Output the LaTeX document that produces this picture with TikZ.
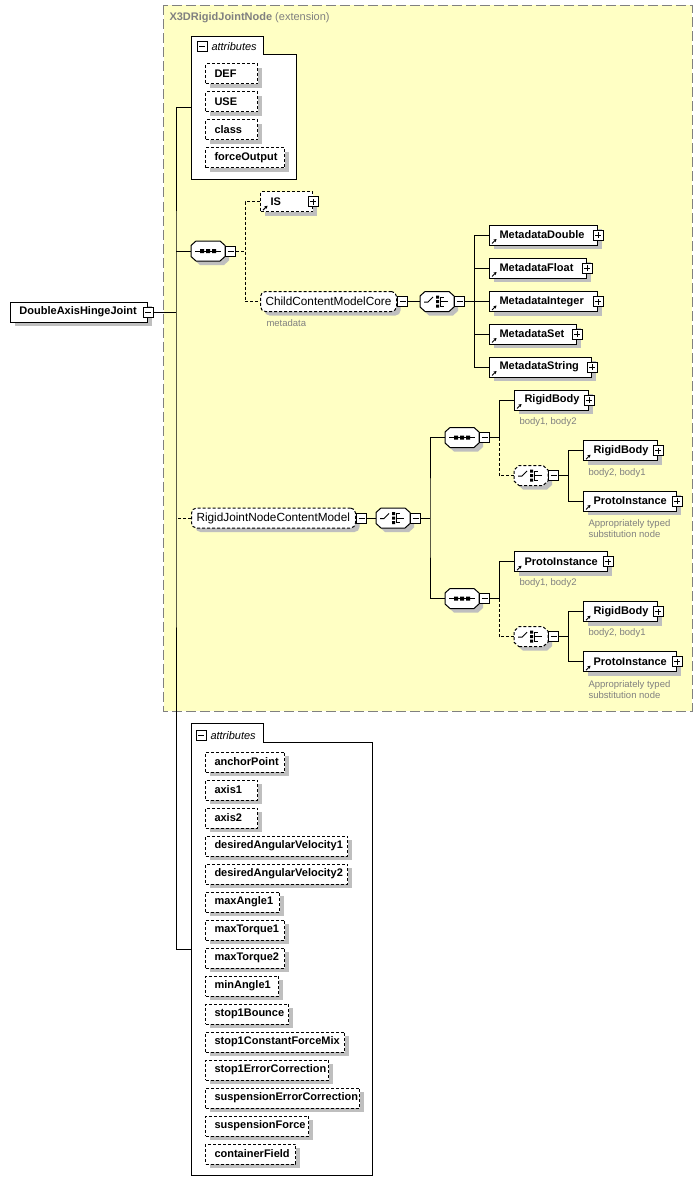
\documentclass[tikz,border=0pt]{standalone}
\usepackage{fontspec}
\setmainfont{Liberation Sans}
\usetikzlibrary{arrows,arrows.meta,shadows}
\definecolor{extfill}{RGB}{255,255,196}
\definecolor{extline}{RGB}{128,128,128}
\definecolor{hintgray}{RGB}{128,128,128}

% octagonal box for sequence and choice compositors
\makeatletter
\newdimen\octl \newdimen\octr \newdimen\octt \newdimen\octb
\newdimen\octL \newdimen\octR \newdimen\octT \newdimen\octB
\pgfdeclareshape{octbox}{%
  \inheritsavedanchors[from=rectangle]%
  \inheritanchorborder[from=rectangle]%
  \inheritanchor[from=rectangle]{center}%
  \inheritanchor[from=rectangle]{north}%
  \inheritanchor[from=rectangle]{south}%
  \inheritanchor[from=rectangle]{east}%
  \inheritanchor[from=rectangle]{west}%
  \backgroundpath{%
    \southwest \octl=\pgf@x \octb=\pgf@y
    \northeast \octr=\pgf@x \octt=\pgf@y
    \octL=\octl \advance\octL by 5pt
    \octR=\octr \advance\octR by -5pt
    \octB=\octb \advance\octB by 4.5pt
    \octT=\octt \advance\octT by -4.5pt
    \pgfpathmoveto{\pgfqpoint{\octL}{\octb}}%
    \pgfpathlineto{\pgfqpoint{\octR}{\octb}}%
    \pgfpathlineto{\pgfqpoint{\octr}{\octB}}%
    \pgfpathlineto{\pgfqpoint{\octr}{\octT}}%
    \pgfpathlineto{\pgfqpoint{\octR}{\octt}}%
    \pgfpathlineto{\pgfqpoint{\octL}{\octt}}%
    \pgfpathlineto{\pgfqpoint{\octl}{\octT}}%
    \pgfpathlineto{\pgfqpoint{\octl}{\octB}}%
    \pgfpathclose
  }%
}
\makeatother

\begin{document}
\begin{tikzpicture}[x=1pt,y=-1pt,line width=1pt,>=stealth']

  \tikzstyle{shade}=[general shadow={shadow xshift=4pt,shadow yshift=-4pt,fill=black!25}]
  \tikzstyle{opt}=[dash pattern=on 3pt off 2pt]
  \tikzstyle{box}=[rectangle,draw,fill=white,shade,anchor=west,minimum height=20pt,
                   inner xsep=10pt,inner ysep=0pt,align=left,
                   font=\fontsize{11}{13}\selectfont\bfseries]
  \tikzstyle{element}=[box,path picture={\draw[solid,line width=1pt,-{Stealth[length=3pt,width=3.5pt]}]
                   ([shift={(2.5,-1.5)}]path picture bounding box.south west) -- +(4.5,-4.5);}]
  \tikzstyle{attr}=[box,opt,inner xsep=9pt]
  \tikzstyle{group}=[rectangle,rounded corners=5pt,draw,opt,fill=white,shade,anchor=west,
                     minimum height=20pt,inner xsep=5pt,inner ysep=0pt,align=left,
                     font=\fontsize{11.8}{14}\selectfont]
  \tikzstyle{compositor}=[octbox,draw,fill=white,shade,anchor=west,outer sep=0pt,
                          minimum width=34pt,minimum height=20pt,inner sep=0pt]
  \tikzstyle{sequence}=[compositor,path picture={
      \begin{scope}[shift={(path picture bounding box.center)},solid]
        \draw (-13,0) -- (13,0);
        \fill [black] (-8,-2) rectangle (-4,2) (-2,-2) rectangle (2,2) (4,-2) rectangle (8,2);
      \end{scope}}]
  \tikzstyle{choice}=[compositor,path picture={
      \begin{scope}[shift={(path picture bounding box.center)},solid]
        \draw (-13,0.5) -- (-9,0.5) -- (-4,-4.5);
        \fill [black] (-1,-6) rectangle (2,-3) (-1,-1.5) rectangle (2,1.5) (-1,3) rectangle (2,6);
        \draw (6.5,-4.5) -- (3.5,-4.5) -- (3.5,4.5) -- (6.5,4.5) (3.5,0) -- (11,0);
      \end{scope}}]
  \tikzstyle{minus}=[rectangle,draw,solid,fill=white,minimum size=10pt,inner sep=0pt,
                     path picture={\draw[solid] ([xshift=-3pt]path picture bounding box.center)
                     -- ([xshift=3pt]path picture bounding box.center);}]
  \tikzstyle{plus}=[rectangle,draw,solid,fill=white,minimum size=10pt,inner sep=0pt,
                    path picture={\draw[solid] ([xshift=-3pt]path picture bounding box.center)
                    -- ([xshift=3pt]path picture bounding box.center)
                    ([yshift=-3pt]path picture bounding box.center)
                    -- ([yshift=3pt]path picture bounding box.center);}]
  \tikzstyle{hint}=[anchor=west,inner sep=0pt,text=hintgray,align=left,
                    font=\fontsize{9.5}{11}\selectfont]
  \tikzstyle{head}=[anchor=west,inner sep=0pt,font=\fontsize{11}{13}\selectfont\itshape]

  \useasboundingbox (0,0) rectangle (693,1193);

  % extension area
  \draw [extline,fill=extfill,dash pattern=on 10pt off 4pt,line width=1pt] (163.5,5.5) rectangle (692,711);
  \node [anchor=west,inner sep=0pt,text=extline,font=\fontsize{11}{13}\selectfont]
        (extname) at (169,17.5) {\textbf{X3DRigidJointNode} (extension)};

  % root
  \node [box,inner xsep=9pt,text width=119pt] (root) at (10,312) {DoubleAxisHingeJoint};
  \node [minus] (rootm) at (root.east) {};

  % inherited attributes
  \node [anchor=west,minimum width=104pt,minimum height=142pt,inner sep=0pt] (attrsA) at (191,108) {};
  \draw [fill=white] (attrsA.north west) -- ++(72,0) -- ++(0,18) -| (attrsA.south east)
        -| (attrsA.north west) -- cycle;
  \node [minus] (attrsAm) at (202,46.5) {};
  \node [head] (attrsAh) at (211,47) {attributes};
  \node [attr,text width=34pt] (def)   at (205,74)  {DEF};
  \node [attr,text width=34pt] (use)   at (205,102) {USE};
  \node [attr,text width=34pt] (class) at (205,130) {class};
  \node [attr,text width=61pt] (force) at (205,158) {forceOutput};

  % IS and metadata
  \node [sequence] (seqA) at (191,251) {};
  \node [minus,anchor=west] (seqAm) at (seqA.east) {};
  \coordinate (seqAj) at (245,251);
  \node [element,opt,text width=32pt] (is) at (260,201.7) {IS};
  \node [plus] (isp) at (is.east) {};
  \node [group,text width=126pt] (cmc) at (260,301.5) {ChildContentModelCore};
  \node [minus,anchor=west] (cmcm) at (cmc.east) {};
  \node [hint] (cmcl) at (266,323) {metadata};
  \node [choice] (chA) at (420,301.5) {};
  \node [minus,anchor=west] (chAm) at (chA.east) {};
  \coordinate (chAj) at (474.5,301.5);
  \node [element,text width=88pt] (mdD)   at (489,235)   {MetadataDouble};
  \node [plus] (mdDp) at (mdD.east) {};
  \node [element,text width=77pt] (mdF)   at (489,268)   {MetadataFloat};
  \node [plus] (mdFp) at (mdF.east) {};
  \node [element,text width=88pt] (mdI)   at (489,301.5) {MetadataInteger};
  \node [plus] (mdIp) at (mdI.east) {};
  \node [element,text width=67pt] (mdSet) at (489,334)   {MetadataSet};
  \node [plus] (mdSetp) at (mdSet.east) {};
  \node [element,text width=82pt] (mdStr) at (489,367)   {MetadataString};
  \node [plus] (mdStrp) at (mdStr.east) {};

  % bodies
  \node [group,text width=154pt] (rjn) at (191,518) {RigidJointNodeContentModel};
  \node [minus,anchor=west] (rjnm) at (rjn.east) {};
  \node [choice] (chB) at (376,518) {};
  \node [minus,anchor=west] (chBm) at (chB.east) {};
  \coordinate (chBj) at (430,518);

  \node [sequence] (seqB) at (445,437.5) {};
  \node [minus,anchor=west] (seqBm) at (seqB.east) {};
  \coordinate (seqBj) at (499,437.5);
  \node [element,text width=54pt] (rbA) at (514,400) {RigidBody};
  \node [plus] (rbAp) at (rbA.east) {};
  \node [hint] (rbAl) at (519,422) {body1, body2};
  \node [choice,opt] (chC) at (514,475.5) {};
  \node [minus,anchor=west] (chCm) at (chC.east) {};
  \coordinate (chCj) at (568.5,475.5);
  \node [element,text width=54pt] (rbB) at (583,450.7) {RigidBody};
  \node [plus] (rbBp) at (rbB.east) {};
  \node [hint] (rbBl) at (588,472.7) {body2, body1};
  \node [element,text width=73pt] (piB) at (583,501) {ProtoInstance};
  \node [plus] (piBp) at (piB.east) {};
  \node [hint] (piBl) at (588,528.5) {Appropriately typed\\substitution node};

  \node [sequence] (seqC) at (445,598.5) {};
  \node [minus,anchor=west] (seqCm) at (seqC.east) {};
  \coordinate (seqCj) at (499,598.5);
  \node [element,text width=73pt] (piA) at (514,561.7) {ProtoInstance};
  \node [plus] (piAp) at (piA.east) {};
  \node [hint] (piAl) at (519,583.3) {body1, body2};
  \node [choice,opt] (chD) at (514,636.7) {};
  \node [minus,anchor=west] (chDm) at (chD.east) {};
  \coordinate (chDj) at (568.5,636.7);
  \node [element,text width=54pt] (rbC) at (583,611.7) {RigidBody};
  \node [plus] (rbCp) at (rbC.east) {};
  \node [hint] (rbCl) at (588,633.3) {body2, body1};
  \node [element,text width=73pt] (piC) at (583,661.7) {ProtoInstance};
  \node [plus] (piCp) at (piC.east) {};
  \node [hint] (piCl) at (588,689.2) {Appropriately typed\\substitution node};

  % own attributes
  \node [anchor=west,minimum width=180pt,minimum height=451pt,inner sep=0pt] (attrsB) at (191,949.5) {};
  \draw [fill=white] (attrsB.north west) -- ++(72,0) -- ++(0,19) -| (attrsB.south east)
        -| (attrsB.north west) -- cycle;
  \node [minus] (attrsBm) at (201,735) {};
  \node [head] (attrsBh) at (210,735.5) {attributes};
  \node [attr,text width=61pt]  (anchor) at (205,762)  {anchorPoint};
  \node [attr,text width=34pt]  (axA)    at (205,790)  {axis1};
  \node [attr,text width=34pt]  (axB)    at (205,818)  {axis2};
  \node [attr,text width=124pt] (davA)   at (205,846)  {desiredAngularVelocity1};
  \node [attr,text width=124pt] (davB)   at (205,874)  {desiredAngularVelocity2};
  \node [attr,text width=56pt]  (maxA)   at (205,902)  {maxAngle1};
  \node [attr,text width=61pt]  (maxTA)  at (205,930)  {maxTorque1};
  \node [attr,text width=61pt]  (maxTB)  at (205,958)  {maxTorque2};
  \node [attr,text width=55pt]  (minA)   at (205,986)  {minAngle1};
  \node [attr,text width=65pt]  (stB)    at (205,1014) {stop1Bounce};
  \node [attr,text width=121pt] (stCFM)  at (205,1042) {stop1ConstantForceMix};
  \node [attr,text width=105pt] (stEC)   at (205,1070) {stop1ErrorCorrection};
  \node [attr,text width=136pt] (susEC)  at (205,1098) {suspensionErrorCorrection};
  \node [attr,text width=85pt]  (susF)   at (205,1126) {suspensionForce};
  \node [attr,text width=72pt]  (cfield) at (205,1154) {containerField};

  % connectors
  \coordinate (trunk) at (176,312);
  \draw (rootm.east) -- (trunk);
  \draw (attrsA.west) -| (trunk) |- (attrsB.west);
  \draw (seqA.west) -- (seqA.west -| trunk);
  \draw [opt] (rjn.west) -- (rjn.west -| trunk);

  \draw [opt] (seqAm.east) -- (seqAj);
  \draw [opt] (is.west) -| (seqAj) |- (cmc.west);
  \draw (cmcm.east) -- (chA.west);
  \draw (chAm.east) -- (mdI.west);
  \draw (mdD.west) -| (chAj) |- (mdStr.west);
  \draw (mdF.west) -| (chAj);
  \draw (mdSet.west) -| (chAj);

  \draw (rjnm.east) -- (chB.west);
  \draw (chBm.east) -- (chBj);
  \draw (seqB.west) -| (chBj) |- (seqC.west);

  \draw (seqBm.east) -- (seqBj);
  \draw (rbA.west) -| (seqBj);
  \draw [opt] (seqBj) |- (chC.west);
  \draw (chCm.east) -- (chCj);
  \draw (rbB.west) -| (chCj) |- (piB.west);

  \draw (seqCm.east) -- (seqCj);
  \draw (piA.west) -| (seqCj);
  \draw [opt] (seqCj) |- (chD.west);
  \draw (chDm.east) -- (chDj);
  \draw (rbC.west) -| (chDj) |- (piC.west);
\end{tikzpicture}
\end{document}
